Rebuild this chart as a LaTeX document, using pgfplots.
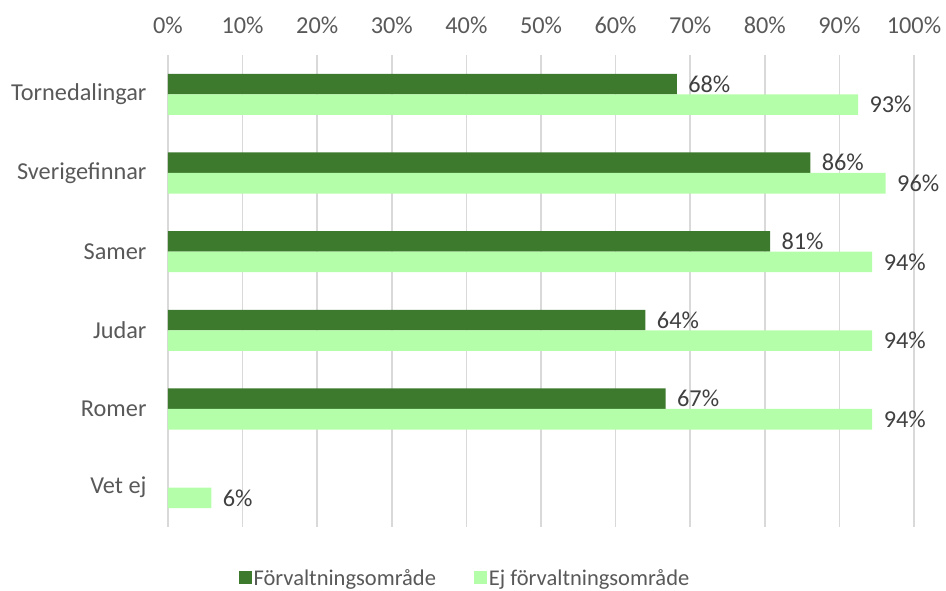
\documentclass[border=0pt]{standalone}
\usepackage{fontspec}
\setmainfont{Carlito}
\usepackage{pgfplots}
\pgfplotsset{compat=1.18}
\definecolor{darkg}{RGB}{62,122,46}
\definecolor{lightg}{RGB}{181,254,169}
\definecolor{txt}{RGB}{89,89,89}
\definecolor{lbl}{RGB}{64,64,64}
\definecolor{gridc}{RGB}{217,217,217}

\begin{document}
\begin{tikzpicture}
\begin{axis}[
    name=ax,
    xbar,
    scale only axis,
    width=746pt,
    height=472pt,
    bar width=20.5pt,
    xmin=0, xmax=100,
    ymin=-0.5, ymax=5.5,
    y dir=reverse,
    axis line style={draw=none},
    xticklabel pos=top,
    xtick={0,10,...,100},
    xticklabels={0\%,10\%,20\%,30\%,40\%,50\%,60\%,70\%,80\%,90\%,100\%},
    ytick={0,1,2,3,4,5},
    yticklabels={Tornedalingar,Sverigefinnar,Samer,Judar,Romer,Vet ej},
    major tick length=0pt,
    xmajorgrids=true,
    ymajorgrids=false,
    grid style={draw=gridc, line width=1.6pt},
    font=\fontsize{24.3}{29}\selectfont,
    tick label style={text=txt},
    xticklabel style={yshift=18pt},
    yticklabel style={xshift=-18pt},
    point meta=explicit symbolic,
    nodes near coords={\pgfplotspointmeta\%},
    every node near coord/.append style={text=lbl, anchor=west, xshift=8pt},
    legend columns=2,
    legend style={at={(0.398,-0.108)}, anchor=center, draw=none,
        font=\fontsize{22.5}{27}\selectfont, text=txt,
        /tikz/every even column/.append style={column sep=36pt}},
    legend image code/.code={\fill[#1] (0pt,-6.5pt) rectangle (13pt,6.5pt);},
]
\addplot[fill=darkg, draw=none, bar shift=10.25pt] coordinates {
    (68.2,0) [68] (86.1,1) [86] (80.7,2) [81] (64.0,3) [64] (66.7,4) [67]
};
\addplot[fill=lightg, draw=none, bar shift=-10.25pt] coordinates {
    (92.5,0) [93] (96.2,1) [96] (94.4,2) [94] (94.4,3) [94] (94.4,4) [94] (5.8,5) [6]
};
\legend{Förvaltningsområde, Ej förvaltningsområde}
\end{axis}
\path ([shift={(-168pt,-62pt)}]ax.south west) rectangle ([shift={(32pt,55pt)}]ax.north east);
\end{tikzpicture}
\end{document}
